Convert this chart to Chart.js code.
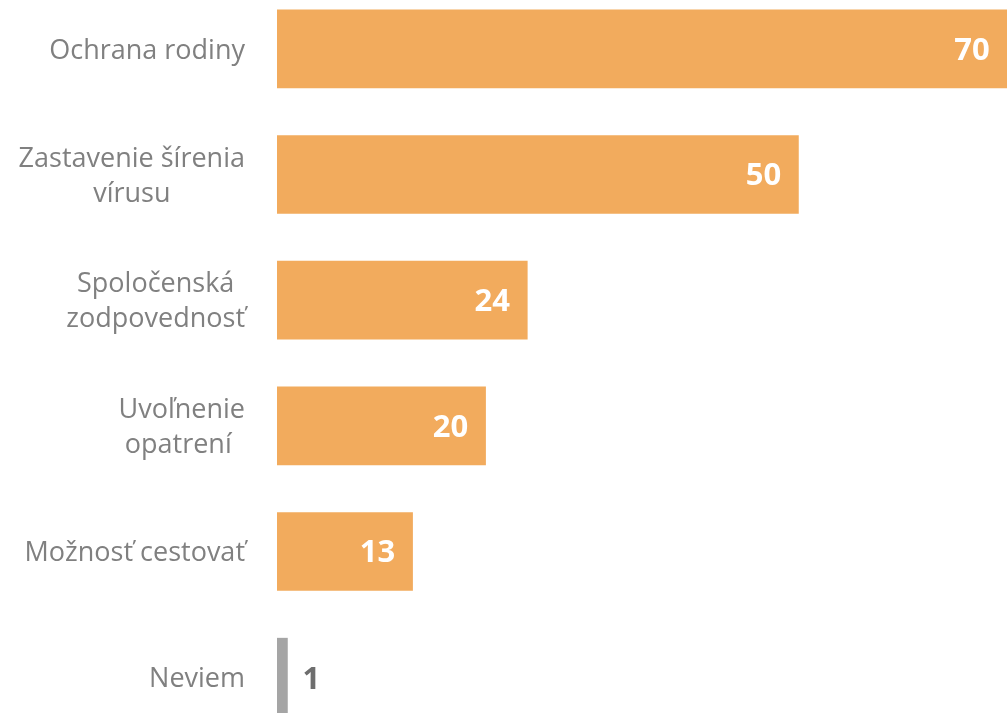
<!DOCTYPE html>
<html>
<head>
<meta charset="utf-8">
<script src="https://cdn.jsdelivr.net/npm/chart.js@4"></script>
<style>
  html,body{margin:0;padding:0;background:#fff;overflow:hidden;}
  body{width:1007px;height:713px;position:relative;}
  /* the plot runs past the top and bottom edges of the picture */
  #wrap{width:1007px;height:754px;position:absolute;left:0;top:-14px;}
</style>
</head>
<body>
<div id="wrap"><canvas id="chart"></canvas></div>
<script>
// categories (multi-line labels) and values
const categories = [
  ['Ochrana rodiny'],
  ['Zastavenie šírenia', 'vírusu'],
  ['Spoločenská', 'zodpovednosť'],
  ['Uvoľnenie', 'opatrení '],
  ['Možnosť cestovať'],
  ['Neviem']
];
const values = [70, 50, 24, 20, 13, 1];
const barColors = ['#F2AB5D', '#F2AB5D', '#F2AB5D', '#F2AB5D', '#F2AB5D', '#A5A5A5'];

const labelFont = '27px "Open Sans", sans-serif';
const valueFont = 'bold 31px "Open Sans", sans-serif';

// draws category labels (block right aligned, lines centred) and value labels
const labelsPlugin = {
  id: 'labels',
  afterDatasetsDraw(chart){
    const ctx = chart.ctx;
    const yScale = chart.scales.y;
    const meta = chart.getDatasetMeta(0);
    ctx.save();
    ctx.textBaseline = 'middle';
    // category labels
    ctx.font = labelFont;
    ctx.fillStyle = '#808080';
    ctx.textAlign = 'center';
    categories.forEach((lines, i) => {
      const cy = yScale.getPixelForValue(i);
      let w = 0;
      lines.forEach(l => { w = Math.max(w, ctx.measureText(l).width); });
      const cx = 245 - w/2;
      const lh = 35;
      const y0 = cy - (lines.length-1)*lh/2 + 2;
      lines.forEach((l, k) => ctx.fillText(l, cx, y0 + k*lh));
    });
    // value labels
    ctx.font = valueFont;
    meta.data.forEach((bar, i) => {
      const v = values[i];
      if(v < 5){
        ctx.fillStyle = '#6E6E6E';
        ctx.textAlign = 'left';
        ctx.fillText(String(v), bar.x + 15, bar.y + 3);
      } else {
        ctx.fillStyle = '#FFFFFF';
        ctx.textAlign = 'center';
        ctx.fillText(String(v), Math.min(bar.x - 35, chart.chartArea.right - 28), bar.y + 2);
      }
    });
    ctx.restore();
  }
};

new Chart(document.getElementById('chart'), {
  type: 'bar',
  data: {
    labels: categories,
    datasets: [{
      data: values,
      backgroundColor: barColors,
      borderWidth: 0,
      barThickness: 78
    }]
  },
  options: {
    indexAxis: 'y',
    responsive: true,
    maintainAspectRatio: false,
    animation: false,
    layout: { padding: { left: 277, right: 0, top: 0, bottom: 0 } },
    plugins: { legend: { display: false }, tooltip: { enabled: false } },
    scales: {
      x: { display: false, min: 0, max: 70 },
      y: { display: false, grid: { display: false } }
    }
  },
  plugins: [labelsPlugin]
});
</script>
</body>
</html>
